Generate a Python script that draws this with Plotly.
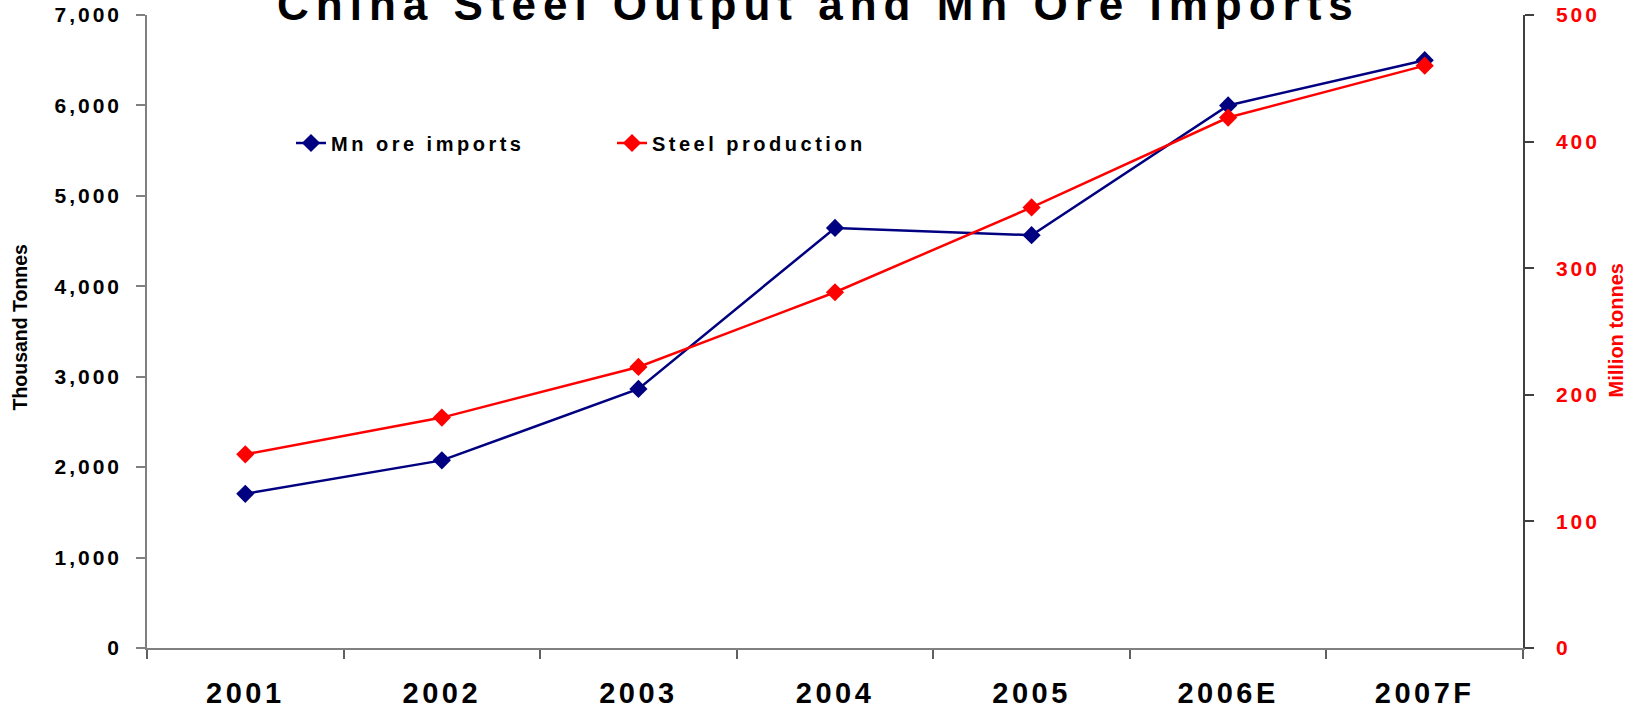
import plotly.graph_objects as go

# ---------------- data ----------------
years = ["2001", "2002", "2003", "2004", "2005", "2006E", "2007F"]
mn_ore_imports = [1705, 2075, 2865, 4645, 4565, 6000, 6500]      # thousand tonnes (left axis)
steel_production = [153, 182, 222, 281, 348, 419, 460]           # million tonnes (right axis)

left_tick_vals = [0, 1000, 2000, 3000, 4000, 5000, 6000, 7000]
left_tick_labels = ["0", "1,000", "2,000", "3,000", "4,000", "5,000", "6,000", "7,000"]
right_tick_vals = [0, 100, 200, 300, 400, 500]
right_tick_labels = ["0", "100", "200", "300", "400", "500"]

title_text = "China Steel Output and Mn Ore Imports"
left_axis_title = "Thousand Tonnes"
right_axis_title = "Million tonnes"
series_names = ["Mn ore imports", "Steel production"]

# ---------------- style ----------------
FONT = "Liberation Sans, Arial, sans-serif"
NAVY = "#000080"
RED = "#FF0000"


def spaced(text, px):
    return f'<span style="letter-spacing:{px}px">{text}</span>'


fig = go.Figure()
fig.add_trace(go.Scatter(
    x=years, y=mn_ore_imports, name=spaced(series_names[0], 3.5),
    mode="lines+markers", yaxis="y",
    line=dict(color=NAVY, width=2.5),
    marker=dict(symbol="diamond", size=14, color=NAVY),
))
fig.add_trace(go.Scatter(
    x=years, y=steel_production, name=spaced(series_names[1], 3.5),
    mode="lines+markers", yaxis="y2",
    line=dict(color=RED, width=2.5),
    marker=dict(symbol="diamond", size=14, color=RED),
))

L, R, T, B = 147, 117, 15, 60
W, H = 1640, 708
pw = W - L - R
ph = H - T - B


def px_x(x):
    return (x - L) / pw


def px_y(y):
    return (H - B - y) / ph


fig.update_layout(
    width=W, height=H,
    margin=dict(l=L, r=R, t=T, b=B, autoexpand=False),
    paper_bgcolor="white", plot_bgcolor="white",
    font=dict(family=FONT, color="black"),
    showlegend=True,
    legend=dict(
        orientation="h", x=px_x(291), y=px_y(143), xanchor="left", yanchor="middle",
        font=dict(family=FONT, size=20, color="black", weight="bold"),
        entrywidth=276, entrywidthmode="pixels",
        bgcolor="rgba(0,0,0,0)", borderwidth=0,
    ),
    xaxis=dict(
        type="category", range=[-0.5, 6.5], automargin=False,
        tickmode="array", tickvals=years,
        ticktext=[spaced(y, 3.5) for y in years],
        tickson="boundaries", ticks="outside", ticklen=9, tickwidth=1.5, tickcolor="#606060",
        showline=True, linecolor="#808080", linewidth=1.5,
        showgrid=False, zeroline=False,
        tickfont=dict(family=FONT, size=29, color="black", weight="bold"),
        ticklabelstandoff=18,
    ),
    yaxis=dict(
        range=[0, 7000], automargin=False,
        tickmode="array", tickvals=left_tick_vals,
        ticktext=[spaced(t, 3) for t in left_tick_labels],
        ticks="outside", ticklen=9, tickwidth=1.5, tickcolor="#808080",
        showline=True, linecolor="#808080", linewidth=1.5,
        showgrid=False, zeroline=False,
        tickfont=dict(family=FONT, size=21, color="black", weight="bold"),
        ticklabelstandoff=10,
    ),
    yaxis2=dict(
        range=[0, 500], overlaying="y", side="right", anchor="x", automargin=False,
        tickmode="array", tickvals=right_tick_vals,
        ticktext=[spaced(t, 3) for t in right_tick_labels],
        ticks="outside", ticklen=9, tickwidth=1.5, tickcolor="#404040",
        showline=True, linecolor="#404040", linewidth=1.5,
        showgrid=False, zeroline=False,
        tickfont=dict(family=FONT, size=21, color=RED, weight="bold"),
        ticklabelstandoff=18,
    ),
    yaxis3=dict(
        range=[0, 500], overlaying="y", side="right", anchor="x", automargin=False,
        tickmode="array", tickvals=right_tick_vals,
        ticks="inside", ticklen=9, tickwidth=1.5, tickcolor="#404040",
        showticklabels=False, showline=False, showgrid=False, zeroline=False,
    ),
)

fig.add_annotation(
    text=spaced(title_text, 7), xref="paper", yref="paper",
    x=px_x(818), y=px_y(4), xanchor="center", yanchor="middle",
    showarrow=False, font=dict(family=FONT, size=44, color="black", weight="bold"),
)
fig.add_annotation(
    text=left_axis_title, xref="paper", yref="paper",
    x=px_x(19.5), y=px_y(327), xanchor="center", yanchor="middle", textangle=-90,
    showarrow=False, font=dict(family=FONT, size=19.5, color="black", weight="bold"),
)
fig.add_annotation(
    text=right_axis_title, xref="paper", yref="paper",
    x=px_x(1615.5), y=px_y(331), xanchor="center", yanchor="middle", textangle=-90,
    showarrow=False, font=dict(family=FONT, size=20, color=RED, weight="bold"),
)

fig.write_html(
    "out.html",
    config={"displayModeBar": False},
    post_script="document.body.style.margin='0';document.body.style.overflow='hidden';",
)
